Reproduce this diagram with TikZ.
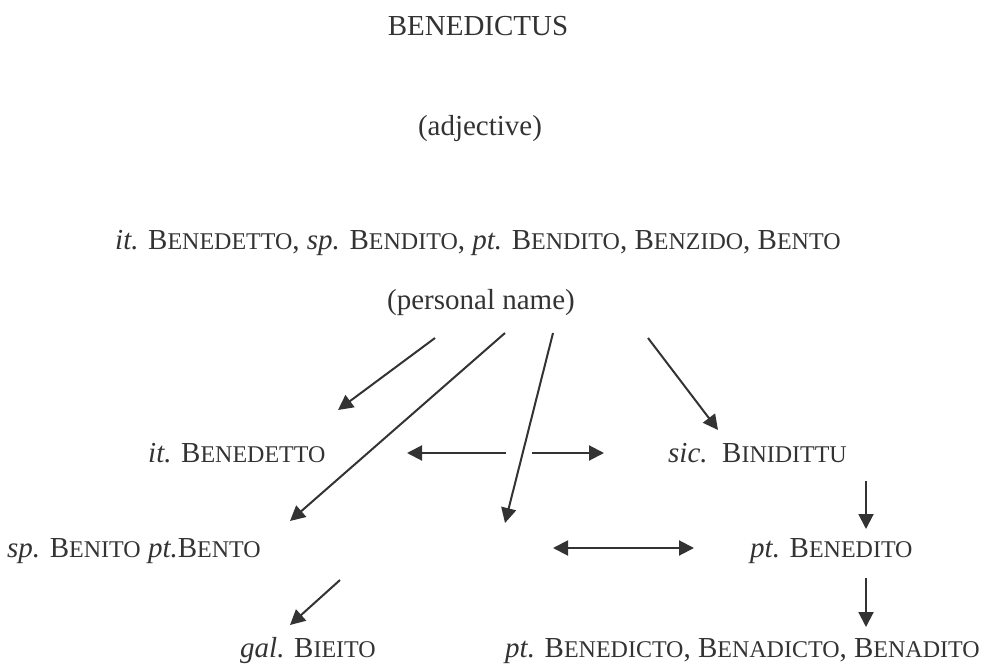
\documentclass[tikz,border=0pt]{standalone}
\usepackage{fontspec}
\setmainfont{Liberation Serif}
\usetikzlibrary{arrows.meta}
\newcommand\Sc[2]{#1{\fontsize{24}{24}\selectfont #2}}
\begin{document}
\begin{tikzpicture}[x=1pt,y=-1pt,
  font=\fontsize{29}{34}\selectfont,
  lbl/.style={inner sep=0pt, anchor=base, text=black!80},
  lblw/.style={lbl, anchor=base west},
  tip/.tip={Triangle[length=15pt,width=15pt]},
  arr/.style={-tip, line width=2pt, black!80},
  darr/.style={tip-tip, line width=2pt, black!80}]
\useasboundingbox (0,0) rectangle (981,671);
\node[lbl] (top) at (478,36) {BENEDICTUS};
\node[lbl] (adj) at (480,136) {(adjective)};
\node[lblw] (l3) at (115,249) {\textit{it.} \Sc{B}{ENEDETTO}, \textit{sp.} \Sc{B}{ENDITO}, \textit{pt.} \Sc{B}{ENDITO}, \Sc{B}{ENZIDO}, \Sc{B}{ENTO}};
\node[lbl] (pn) at (481,309) {(personal name)};
\node[lblw] (itB) at (148,462) {\textit{it.} \Sc{B}{ENEDETTO}};
\node[lblw] (sic) at (668,462) {\textit{sic.}\ \ \Sc{B}{INIDITTU}};
\node[lblw] (sp) at (7,557) {\textit{sp.} \Sc{B}{ENITO} \textit{pt.}\Sc{B}{ENTO}};
\node[lblw] (ptB) at (750,557) {\textit{pt.} \Sc{B}{ENEDITO}};
\node[lblw] (gal) at (240,657) {\textit{gal.} \Sc{B}{IEITO}};
\node[lblw] (ptBd) at (505,657) {\textit{pt.} \Sc{B}{ENEDICTO}, \Sc{B}{ENADICTO}, \Sc{B}{ENADITO}};
% arrow endpoints
\coordinate (a1s) at (435,338); \coordinate (a1e) at (338,410);
\coordinate (a2s) at (505,333); \coordinate (a2e) at (290,521);
\coordinate (a3s) at (553,333); \coordinate (a3e) at (505,523);
\coordinate (a4s) at (648,338); \coordinate (a4e) at (718,430);
\coordinate (hL) at (506,453); \coordinate (hLe) at (407,453);
\coordinate (hR) at (532,453); \coordinate (hRe) at (604,453);
\coordinate (d1s) at (866,481); \coordinate (d1e) at (866,529);
\coordinate (m1) at (553,548); \coordinate (m2) at (694,548);
\coordinate (g1s) at (340,580); \coordinate (g1e) at (290,625);
\coordinate (d2s) at (866,578); \coordinate (d2e) at (866,627);
\draw[arr] (a1s) -- (a1e);
\draw[arr] (a2s) -- (a2e);
\draw[arr] (a3s) -- (a3e);
\draw[arr] (a4s) -- (a4e);
\draw[arr] (hL) -- (hLe);
\draw[arr] (hR) -- (hRe);
\draw[arr] (d1s) -- (d1e);
\draw[darr] (m1) -- (m2);
\draw[arr] (g1s) -- (g1e);
\draw[arr] (d2s) -- (d2e);
\end{tikzpicture}
\end{document}
